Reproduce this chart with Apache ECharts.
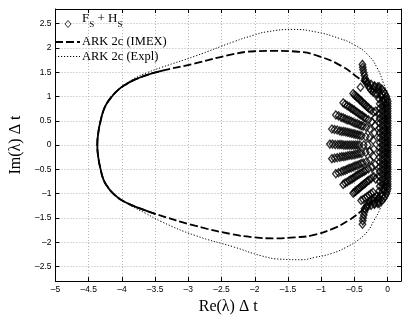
<!DOCTYPE html>
<html><head><meta charset="utf-8">
<script src="https://cdn.jsdelivr.net/npm/echarts@6/dist/echarts.min.js"></script>
<style>html,body{margin:0;padding:0;background:#fff}#c{width:407px;height:320px}</style>
</head><body><div id="c"></div>
<script>
const xTicks = [-5,-4.5,-4,-3.5,-3,-2.5,-2,-1.5,-1,-0.5,0];
const yTicks = [-2.5,-2,-1.5,-1,-0.5,0,0.5,1,1.5,2,2.5];

const imexUpper = [[0.0,0.0],[-0.01,0.3],[-0.03,0.6],[-0.07,0.85],[-0.15,1.05],[-0.3,1.23],[-0.45,1.39],[-0.7,1.63],[-1.04,1.83],[-1.35,1.92],[-1.7,1.94],[-2.0,1.93],[-2.36,1.86],[-2.9,1.68],[-3.39,1.53],[-3.65,1.43],[-3.83,1.33],[-3.95,1.24],[-4.06,1.13],[-4.15,1.0],[-4.23,0.85],[-4.28,0.7],[-4.32,0.5],[-4.35,0.3],[-4.37,0]];
const imexLower = [[-4.35,-0.3],[-4.32,-0.5],[-4.28,-0.7],[-4.22,-0.85],[-4.13,-1.0],[-4.02,-1.12],[-3.88,-1.22],[-3.7,-1.32],[-3.49,-1.42],[-2.9,-1.66],[-2.36,-1.83],[-2.0,-1.9],[-1.7,-1.92],[-1.4,-1.9],[-1.14,-1.86],[-0.84,-1.73],[-0.6,-1.56],[-0.4,-1.36],[-0.3,-1.22],[-0.15,-1.04],[-0.07,-0.85],[-0.03,-0.6],[-0.01,-0.3],[0.0,0.0]];

const explUpper = [[0.03,0],[0.03,0.4],[0.02,0.8],[-0.01,1.06],[-0.06,1.26],[-0.16,1.59],[-0.3,1.86],[-0.5,2.06],[-0.74,2.2],[-1.09,2.33],[-1.43,2.38],[-1.82,2.33],[-2.02,2.26],[-2.31,2.13],[-2.9,1.83],[-3.4,1.6],[-3.62,1.49],[-3.8,1.38],[-3.95,1.25],[-4.07,1.12],[-4.16,1.0],[-4.23,0.85],[-4.28,0.7],[-4.32,0.5],[-4.35,0.3],[-4.37,0]];
const explLower = [[-4.35,-0.3],[-4.32,-0.5],[-4.28,-0.7],[-4.22,-0.85],[-4.12,-1.0],[-4.0,-1.13],[-3.85,-1.26],[-3.65,-1.4],[-3.4,-1.58],[-2.9,-1.86],[-2.31,-2.1],[-1.9,-2.28],[-1.6,-2.35],[-1.3,-2.36],[-1.09,-2.31],[-0.84,-2.23],[-0.62,-2.1],[-0.45,-1.96],[-0.3,-1.77],[-0.21,-1.56],[-0.12,-1.33],[-0.06,-1.09],[0.01,-0.8],[0.03,-0.4],[0.03,0]];

const finger0 = [[-0.38,1.66],[-0.375,1.6],[-0.37,1.55],[-0.36,1.49],[-0.35,1.43],[-0.34,1.37],[-0.41,1.19],[-0.33,1.31],[-0.31,1.26],[-0.29,1.21],[-0.27,1.17],[-0.25,1.13],[-0.22,1.09],[-0.19,1.06]];
const finger1 = [[-0.52,1.06],[-0.5,1.03],[-0.48,1.01],[-0.46,0.98],[-0.44,0.96],[-0.42,0.93],[-0.4,0.91],[-0.38,0.88],[-0.36,0.85],[-0.34,0.83],[-0.32,0.8],[-0.3,0.78],[-0.28,0.75],[-0.25,0.72],[-0.21,0.68]];
const finger2 = [[-0.67,0.87],[-0.64,0.84],[-0.61,0.81],[-0.58,0.79],[-0.555,0.76],[-0.53,0.74],[-0.505,0.72],[-0.48,0.69],[-0.455,0.67],[-0.43,0.64],[-0.405,0.62],[-0.38,0.6],[-0.355,0.57],[-0.33,0.55],[-0.29,0.52],[-0.24,0.48]];
const finger3 = [[-0.78,0.62],[-0.74,0.6],[-0.7,0.57],[-0.67,0.56],[-0.64,0.54],[-0.61,0.52],[-0.58,0.51],[-0.55,0.49],[-0.52,0.47],[-0.49,0.45],[-0.46,0.44],[-0.43,0.42],[-0.4,0.4],[-0.37,0.39],[-0.32,0.36],[-0.27,0.33]];
const finger4 = [[-0.84,0.33],[-0.8,0.32],[-0.76,0.31],[-0.72,0.29],[-0.69,0.28],[-0.66,0.28],[-0.63,0.27],[-0.6,0.26],[-0.57,0.25],[-0.54,0.24],[-0.51,0.23],[-0.48,0.22],[-0.45,0.21],[-0.42,0.2],[-0.39,0.19],[-0.33,0.17],[-0.27,0.15]];
const finger5 = [[-0.87,0.02],[-0.83,0.02],[-0.79,0.01],[-0.75,0.01],[-0.72,0.01],[-0.69,0.01],[-0.66,0],[-0.63,0],[-0.6,0],[-0.57,0],[-0.54,0],[-0.51,0],[-0.48,0],[-0.45,0],[-0.42,0],[-0.36,0],[-0.3,0]];
const finger6 = [[-0.84,-0.28],[-0.8,-0.27],[-0.76,-0.26],[-0.72,-0.25],[-0.69,-0.24],[-0.66,-0.24],[-0.63,-0.23],[-0.6,-0.22],[-0.57,-0.21],[-0.54,-0.21],[-0.51,-0.2],[-0.48,-0.19],[-0.45,-0.18],[-0.42,-0.17],[-0.39,-0.17],[-0.33,-0.15],[-0.27,-0.13]];
const finger7 = [[-0.78,-0.59],[-0.74,-0.57],[-0.7,-0.55],[-0.67,-0.53],[-0.64,-0.52],[-0.61,-0.5],[-0.58,-0.48],[-0.55,-0.47],[-0.52,-0.45],[-0.49,-0.43],[-0.46,-0.42],[-0.43,-0.4],[-0.4,-0.38],[-0.37,-0.37],[-0.32,-0.34],[-0.27,-0.31]];
const finger8 = [[-0.67,-0.81],[-0.64,-0.78],[-0.61,-0.76],[-0.58,-0.73],[-0.555,-0.71],[-0.53,-0.69],[-0.505,-0.67],[-0.48,-0.64],[-0.455,-0.62],[-0.43,-0.6],[-0.405,-0.58],[-0.38,-0.56],[-0.355,-0.54],[-0.33,-0.52],[-0.29,-0.49],[-0.24,-0.45]];
const finger9 = [[-0.52,-0.99],[-0.5,-0.97],[-0.48,-0.95],[-0.46,-0.92],[-0.44,-0.9],[-0.42,-0.88],[-0.4,-0.85],[-0.38,-0.83],[-0.36,-0.81],[-0.34,-0.79],[-0.32,-0.76],[-0.3,-0.74],[-0.28,-0.72],[-0.25,-0.69],[-0.21,-0.65]];
const finger10 = [[-0.4,-1.14],[-0.37,-1.12],[-0.34,-1.09],[-0.31,-1.06],[-0.28,-1.03],[-0.25,-1.0],[-0.22,-0.97],[-0.38,-1.63],[-0.375,-1.56],[-0.37,-1.5],[-0.36,-1.44],[-0.35,-1.38],[-0.34,-1.32],[-0.32,-1.27],[-0.3,-1.22],[-0.27,-1.17],[-0.24,-1.12],[-0.2,-1.08]];

const bandA = [[-0.13,1.2],[-0.09,1.15],[-0.06,1.1],[-0.04,1.05],[-0.02,1.0],[-0.01,0.95],[0,0.9],[0,0.85],[0,0.8],[0,0.75],[0,0.7],[0,0.65],[0,0.6],[0,0.55],[0,0.5],[0,0.45],[0,0.4],[0,0.35],[0,0.3],[0,0.25],[0,0.2],[0,0.15],[0,0.1],[0,0.05],[0,0],[0,-0.05],[0,-0.1],[0,-0.15],[0,-0.2],[0,-0.25],[0,-0.3],[0,-0.35],[0,-0.4],[0,-0.45],[0,-0.5],[0,-0.55],[0,-0.6],[0,-0.65],[0,-0.7],[0,-0.75],[0,-0.8],[0,-0.85],[0,-0.9],[-0.01,-0.95],[-0.02,-1.0],[-0.04,-1.05],[-0.06,-1.1],[-0.09,-1.15],[-0.13,-1.2]];
const bandB = [[-0.14,1.15],[-0.08,1.05],[-0.05,0.95],[-0.04,0.85],[-0.04,0.75],[-0.04,0.65],[-0.04,0.55],[-0.04,0.45],[-0.04,0.35],[-0.04,0.25],[-0.04,0.15],[-0.04,0.05],[-0.04,-0.05],[-0.04,-0.15],[-0.04,-0.25],[-0.04,-0.35],[-0.04,-0.45],[-0.04,-0.55],[-0.04,-0.65],[-0.04,-0.75],[-0.04,-0.85],[-0.05,-0.95],[-0.08,-1.05],[-0.14,-1.15]];
const bandC = [[-0.2,1.2],[-0.14,1.1],[-0.1,1.0],[-0.08,0.9],[-0.08,0.8],[-0.08,0.7],[-0.08,0.6],[-0.08,0.5],[-0.08,0.4],[-0.08,0.3],[-0.08,0.2],[-0.08,0.1],[-0.08,0],[-0.08,-0.1],[-0.08,-0.2],[-0.08,-0.3],[-0.08,-0.4],[-0.08,-0.5],[-0.08,-0.6],[-0.08,-0.7],[-0.08,-0.8],[-0.08,-0.9],[-0.1,-1.0],[-0.14,-1.1],[-0.2,-1.2]];
const bandD = [[-0.22,1.15],[-0.16,1.05],[-0.13,0.95],[-0.12,0.85],[-0.12,0.75],[-0.12,0.65],[-0.12,0.55],[-0.12,0.45],[-0.12,0.35],[-0.12,0.25],[-0.12,0.15],[-0.12,0.05],[-0.12,-0.05],[-0.12,-0.15],[-0.12,-0.25],[-0.12,-0.35],[-0.12,-0.45],[-0.12,-0.55],[-0.12,-0.65],[-0.12,-0.75],[-0.12,-0.85],[-0.13,-0.95],[-0.16,-1.05],[-0.22,-1.15]];
const bandHooks = [[-0.35,1.33],[-0.3,1.29],[-0.25,1.25],[-0.2,1.22],[-0.15,1.2],[-0.35,-1.31],[-0.3,-1.27],[-0.25,-1.24],[-0.2,-1.22],[-0.15,-1.2]];
const scattered = [[-0.22,0.1],[-0.2,0.25],[-0.19,0.4],[-0.19,0.56],[-0.18,0.7],[-0.21,-0.08],[-0.21,-0.24],[-0.19,-0.4],[-0.19,-0.56],[-0.18,-0.7]];

const legendLabels = ['{t|F}{s|S}{t| + H}{s|S}', 'ARK 2c (IMEX)', 'ARK 2c (Expl)'];
const seriesNames = ['F_S + H_S', 'ARK 2c (IMEX)', 'ARK 2c (Expl)'];

const imexLoop = imexUpper.concat(imexLower);
const explLoop = explUpper.concat(explLower);
const markers = [].concat(finger0,finger1,finger2,finger3,finger4,finger5,finger6,finger7,finger8,finger9,finger10,bandA,bandB,bandC,bandD,bandHooks,scattered);

const fmt = v => (v < 0 ? '\u2013' + String(-v) : String(v));
const serif = 'Liberation Serif';
const sans = 'Liberation Sans';
const gridLine = {show: true, lineStyle: {color: '#b4b4b4', type: [1, 2], width: 1}};
const DASH = [8, 3];
const DOT = [1.2, 1.8];

const chart = echarts.init(document.getElementById('c'), null, {renderer: 'canvas'});
chart.setOption({
  animation: false,
  backgroundColor: '#fff',
  grid: {left: 47, right: 6, top: 9, bottom: 32, containLabel: false},
  graphic: [
    {type: 'polygon', z: 100, shape: {points: [[68, 20.5], [71, 24], [68, 27.5], [65, 24]]},
     style: {fill: 'rgba(0,0,0,0)', stroke: '#000', lineWidth: 0.8}},
    {type: 'text', z: 100, x: 82, y: 20,
     style: {text: legendLabels[0], verticalAlign: 'middle', align: 'left',
       rich: {
         t: {fontFamily: serif, fontSize: 13, fill: '#000', lineHeight: 18, verticalAlign: 'bottom', padding: [0, 0, 4, 0]},
         s: {fontFamily: serif, fontSize: 9, fill: '#000', lineHeight: 18, verticalAlign: 'bottom'}
       }}},
    {type: 'line', z: 100, shape: {x1: 55, y1: 42, x2: 80, y2: 42}, style: {stroke: '#000', lineWidth: 1.8, lineDash: DASH}},
    {type: 'text', z: 100, x: 82, y: 42,
     style: {text: legendLabels[1], verticalAlign: 'middle', align: 'left', fontFamily: serif, fontSize: 12.5, fill: '#000'}},
    {type: 'line', z: 100, shape: {x1: 55, y1: 56.5, x2: 80, y2: 56.5}, style: {stroke: '#000', lineWidth: 1, lineDash: DOT}},
    {type: 'text', z: 100, x: 82, y: 56.5,
     style: {text: legendLabels[2], verticalAlign: 'middle', align: 'left', fontFamily: serif, fontSize: 12.5, fill: '#000'}}
  ],
  xAxis: [{
    type: 'value', min: -5, max: 0.2, position: 'bottom',
    name: 'Re(\u03bb) \u0394 t', nameLocation: 'middle', nameGap: 7,
    nameTextStyle: {fontFamily: serif, fontSize: 16, color: '#000', verticalAlign: 'top'},
    axisLine: {show: true, onZero: false, lineStyle: {color: '#000', width: 1}},
    axisTick: {show: true, inside: true, length: 4, customValues: xTicks, lineStyle: {color: '#000'}},
    axisLabel: {customValues: xTicks, formatter: fmt, fontFamily: sans, fontSize: 8.5, color: '#000', margin: 4},
    splitLine: gridLine
  }, {
    type: 'value', min: -5, max: 0.2, position: 'top',
    axisLine: {show: true, onZero: false, lineStyle: {color: '#000', width: 1}},
    axisTick: {show: true, inside: true, length: 4, customValues: xTicks, lineStyle: {color: '#000'}},
    axisLabel: {show: false}, splitLine: {show: false}
  }],
  yAxis: [{
    type: 'value', min: -2.8, max: 2.8, position: 'left',
    name: 'Im(\u03bb) \u0394 t', nameLocation: 'middle', nameGap: 24, nameRotate: 90,
    nameTextStyle: {fontFamily: serif, fontSize: 16, color: '#000'},
    axisLine: {show: true, onZero: false, lineStyle: {color: '#000', width: 1}},
    axisTick: {show: true, inside: true, length: 4, customValues: yTicks, lineStyle: {color: '#000'}},
    axisLabel: {customValues: yTicks, formatter: fmt, fontFamily: sans, fontSize: 8.5, color: '#000', margin: 4},
    splitLine: gridLine
  }, {
    type: 'value', min: -2.8, max: 2.8, position: 'right',
    axisLine: {show: true, onZero: false, lineStyle: {color: '#000', width: 1}},
    axisTick: {show: true, inside: true, length: 4, customValues: yTicks, lineStyle: {color: '#000'}},
    axisLabel: {show: false}, splitLine: {show: false}
  }],
  series: [
    {
      name: seriesNames[0], type: 'scatter', data: markers, z: 5,
      symbol: 'diamond', symbolSize: [6.5, 8],
      itemStyle: {color: 'rgba(255,255,255,0)', borderColor: '#000', borderWidth: 1.4}
    },
    {
      name: seriesNames[1], type: 'line', data: imexLoop, showSymbol: false, symbol: 'none', z: 3, smooth: 0.5,
      itemStyle: {color: '#000'}, lineStyle: {color: '#000', width: 1.8, type: DASH}
    },
    {
      name: seriesNames[1], type: 'line', data: imexLoop.filter(p => p[0] < -3.3), showSymbol: false, symbol: 'none', z: 3, smooth: 0.5,
      itemStyle: {color: '#000'}, lineStyle: {color: '#000', width: 1.8, type: 'solid'}
    },
    {
      name: seriesNames[2], type: 'line', data: explLoop, showSymbol: false, symbol: 'none', z: 2, smooth: 0.5,
      itemStyle: {color: '#000'}, lineStyle: {color: '#000', width: 1, type: DOT}
    }
  ]
});
</script>
</body></html>
